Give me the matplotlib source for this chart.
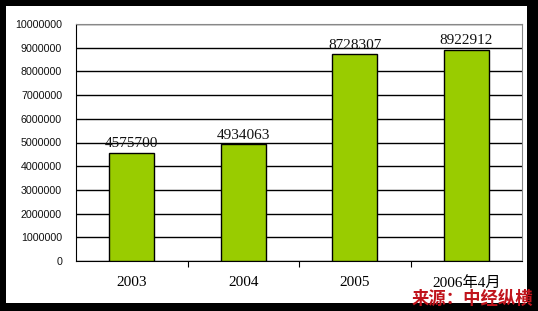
import matplotlib.pyplot as plt
from matplotlib.patches import Rectangle

years = ["2003", "2004", "2005", "2006年4月"]
values = [4575700, 4934063, 8728307, 8922912]
yticks = list(range(0, 10000001, 1000000))

W, H = 538, 311
fig = plt.figure(figsize=(W / 100, H / 100), dpi=100)
fig.patch.set_facecolor("black")
# white chart area inside the black frame
fig.patches.append(Rectangle((6 / W, 1 - 303 / H), (527 - 6) / W, (303 - 6) / H,
                             transform=fig.transFigure, facecolor="white",
                             edgecolor="none", zorder=-10))

ax = fig.add_axes([76 / W, 1 - 261 / H, (522 - 76) / W, (261 - 24) / H])
ax.set_facecolor("white")

x = range(len(years))
bars = ax.bar(x, values, width=0.4, color="#99cc00", edgecolor="black",
              linewidth=1, zorder=3)
for xi, v in zip(x, values):
    ax.text(xi, v + 100000, str(v), ha="center", va="bottom",
            fontsize=11, family=["Liberation Serif", "Noto Sans CJK SC"], color="#111111")

ax.set_xlim(-0.5, len(years) - 0.5)
ax.set_ylim(0, 10000000)
ax.set_yticks(yticks)
ax.set_yticklabels([str(t) for t in yticks], family="Liberation Sans", fontsize=7.7,
                   color="#111111")
ax.tick_params(axis="y", length=0, pad=10)
ax.yaxis.grid(True, color="black", linewidth=1, zorder=0)
ax.set_axisbelow(True)

ax.set_xticks([i + 0.5 for i in range(len(years) - 1)])
ax.set_xticklabels([])
ax.set_xticks(list(x), minor=True)
ax.set_xticklabels(years, minor=True, fontsize=11,
                   family=["Liberation Serif", "Noto Sans CJK SC"])
ax.tick_params(axis="x", which="major", length=4, direction="out", color="black")
ax.tick_params(axis="x", which="minor", length=0, pad=11)

ax.spines["left"].set_color("black")
ax.spines["bottom"].set_color("black")
ax.spines["top"].set_color("#888888")
ax.spines["right"].set_color("#888888")

fig.text(533 / W, 1 - 299 / H, "来源：中经纵横", ha="right", va="center",
         fontsize=12.5, color="#c0141c", fontweight="bold", style="italic",
         family=["Noto Sans CJK SC"])

fig.savefig("out.png", dpi=100, facecolor=fig.get_facecolor())
